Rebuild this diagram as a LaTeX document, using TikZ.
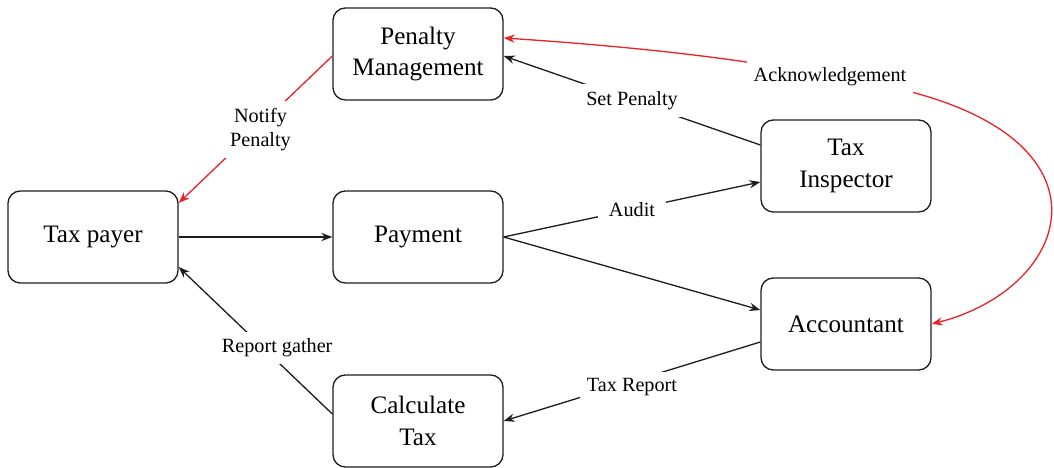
\documentclass[tikz,border=0pt]{standalone}
\usepackage{fontspec}
\setmainfont{Liberation Serif}
\usepackage{xcolor}
\usetikzlibrary{positioning,arrows.meta,calc}
\definecolor{ackred}{HTML}{E8242A}
\definecolor{inkgray}{HTML}{1E1E1E}
\tikzset{
  box/.style={draw=inkgray,line width=0.75pt,rounded corners=7pt,fill=white,align=center,
              minimum width=3.4cm,minimum height=1.84cm,inner sep=3pt,
              font=\fontsize{14.3}{18}\selectfont},
  lbl/.style={fill=white,inner sep=4pt,align=center,font=\fontsize{11.5}{13.6}\selectfont},
  arr/.style={-{Stealth[length=2.2mm]},draw=inkgray,line width=0.75pt},
  rarr/.style={-{Stealth[length=2.2mm]},draw=ackred,line width=0.75pt}
}

\begin{document}
\begin{tikzpicture}
  \useasboundingbox (0,0) rectangle (21.08,9.36);
  \node[box] (penalty) at (8.36,8.28) {Penalty\\Management};
  \node[box] (payer) at (1.86,4.62) {Tax payer};
  \node[box] (payment) at (8.36,4.62) {Payment};
  \node[box] (inspector) at (16.92,6.04) {Tax\\Inspector};
  \node[box] (accountant) at (16.92,2.88) {Accountant};
  \node[box] (calc) at (8.36,0.94) {Calculate\\Tax};
  \coordinate (ackpt) at (16.6,7.82);

  \draw[rarr] ([yshift=-0.04cm]penalty.west) -- node[lbl,xshift=0.1cm]{Notify\\Penalty} ([yshift=0.68cm]payer.east);
  \draw[arr] (payer) -- (payment);
  \draw[arr] ([yshift=0.42cm]inspector.west) -- node[lbl]{Set Penalty} ([yshift=-0.04cm]penalty.east);
  \draw[arr] (payment.east) -- node[lbl,inner xsep=6pt]{Audit} ([yshift=-0.32cm]inspector.west);
  \draw[arr] (payment.east) -- ([yshift=0.28cm]accountant.west);
  \draw[arr] ([yshift=-0.36cm]accountant.west) -- node[lbl,yshift=-0.12cm]{Tax Report} (calc.east);
  \draw[arr] ([yshift=0.14cm]calc.west) -- node[lbl,pos=0.45,xshift=0.28cm]{Report gather} ([yshift=-0.6cm]payer.east);
  \draw[rarr,{Stealth[length=2.2mm]}-{Stealth[length=2.2mm]}] ([yshift=0.32cm]penalty.east)
    .. controls (12.2,8.46) and (14.8,8.22) .. (ackpt) node[lbl]{Acknowledgement}
    .. controls (22.6,7.1) and (21.66,3.65) .. (accountant.east);
\end{tikzpicture}
\end{document}
